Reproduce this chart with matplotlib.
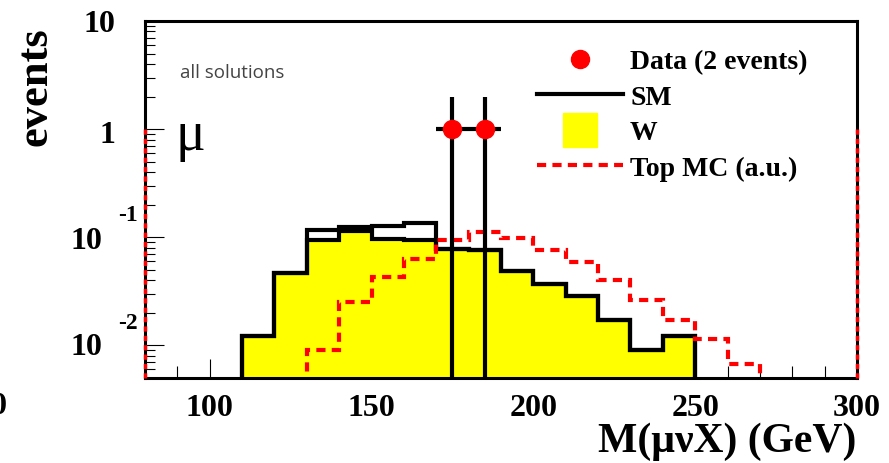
import numpy as np
import matplotlib.pyplot as plt
from matplotlib.lines import Line2D
from matplotlib.ticker import MultipleLocator, FixedLocator, LogLocator, NullFormatter
from matplotlib.transforms import offset_copy

plt.rcParams['font.family'] = ['Liberation Serif', 'DejaVu Serif']
plt.rcParams['font.weight'] = 'bold'

# histogram binning (GeV), 10 GeV bins
w_edges = np.arange(110, 251, 10)
w_vals = [0.0122, 0.047, 0.095, 0.115, 0.097, 0.095, 0.078, 0.076,
          0.0487, 0.0368, 0.0287, 0.0171, 0.0090, 0.0122]
sm_vals = [0.0122, 0.047, 0.117, 0.124, 0.127, 0.136, 0.078, 0.076,
           0.0487, 0.0368, 0.0287, 0.0171, 0.0090, 0.0122]

top_edges = np.arange(130, 271, 10)
top_vals = [0.0091, 0.0250, 0.0428, 0.0626, 0.094, 0.113, 0.0995, 0.077,
            0.0594, 0.0404, 0.0261, 0.0172, 0.0114, 0.0068]

data_x = np.array([175, 185])
data_y = np.array([1.0, 1.0])

ytick_vals = [10, 1, 0.1, 0.01]
xtick_vals = [100, 150, 200, 250, 300]

red = '#ff0000'
yellow = '#ffff00'
dash = (0, (2.2, 1.5))
ymin, ymax = 0.005, 10

fig = plt.figure(figsize=(8.89, 4.64), dpi=100)
ax = fig.add_axes([145/889, 1-379/464, 712/889, 357/464])
ax.set_yscale('log')
ax.set_xlim(80, 300)
ax.set_ylim(ymin, ymax)

# W (filled) and SM total
ax.stairs(w_vals, w_edges, fill=True, color=yellow, baseline=1e-4, zorder=2)
ax.stairs(w_vals, w_edges, color='black', lw=3, baseline=1e-4, zorder=3)
ax.stairs(sm_vals, w_edges, color='black', lw=3, baseline=1e-4, zorder=3)

# top MC shape
ax.stairs(top_vals, top_edges, color=red, lw=3, linestyle=dash, baseline=1e-4, zorder=4)
ax.vlines([80, 300], ymin, 1.0, colors=red, lw=2.5, linestyles=(0, (1.5, 1.2)), zorder=6, clip_on=False)

# data with poisson errors
err = np.sqrt(data_y)
lo = np.minimum(err, data_y - 1e-3)
ax.errorbar(data_x, data_y, xerr=5, yerr=[lo, err], fmt='o', color=red, ms=13,
            ecolor='black', elinewidth=3, capsize=0, zorder=7)

for s in ax.spines.values():
    s.set_linewidth(2.2)
    s.set_zorder(5)

ax.xaxis.set_major_locator(FixedLocator(xtick_vals))
ax.xaxis.set_minor_locator(MultipleLocator(10))
ax.yaxis.set_major_locator(FixedLocator(ytick_vals))
ax.yaxis.set_minor_locator(LogLocator(base=10, subs=np.arange(2, 10)))
ax.yaxis.set_major_formatter(NullFormatter())
ax.yaxis.set_minor_formatter(NullFormatter())
ax.tick_params(which='both', direction='in', top=False, right=False, width=0.8)
ax.tick_params(which='major', length=14)
ax.tick_params(axis='x', which='minor', length=8.5)
ax.tick_params(axis='y', which='minor', length=7)
ax.tick_params(axis='x', labelsize=23, pad=11)
for lab in ax.get_xticklabels():
    lab.set_fontweight('bold')

# ROOT style log labels: mantissa plus raised exponent
ytr = ax.get_yaxis_transform()
def ylab(txt, y, dx, dy, ha, size):
    tr = offset_copy(ytr, fig=fig, x=dx*0.72, y=dy*0.72, units='points')
    ax.text(0, y, txt, transform=tr, ha=ha, va='center', fontsize=size, fontweight='bold')

ylab('10', 10, -30, -3, 'right', 23)
ylab('1', 1, -30, -5, 'right', 23)
ylab('10', 0.1, -43, -3, 'right', 23)
ylab('-1', 0.1, -27, 23, 'left', 17)
ylab('10', 0.01, -43, -1, 'right', 23)
ylab('-2', 0.01, -27, 23, 'left', 17)

fig.text(35/889, 1-87/464, 'events', rotation=90, ha='center', va='center', fontsize=32, fontweight='bold')
fig.text(856/889, 1-442/464, 'M(\u03bc\u03bdX) (GeV)', ha='right', va='center', fontsize=30, fontweight='bold')
fig.text(-9/889, 1-407/464, '0', ha='left', va='center', fontsize=23, fontweight='bold')

fig.text(180/889, 1-73/464, 'all solutions', ha='left', va='center', fontsize=13.5,
         color='#444444', family='Open Sans', fontweight='normal')
fig.text(175/889, 1-150/464, '\u03bc', ha='left', va='baseline', fontsize=40, fontweight='normal')

handles = [
    Line2D([], [], ls='none', marker='o', color=red, ms=13),
    Line2D([], [], color='black', lw=3),
    Line2D([], [], ls='none', marker='s', color=yellow, ms=25),
    Line2D([], [], color=red, lw=3, ls=dash),
]
labels = ['Data (2 events)', 'SM', 'W', 'Top MC (a.u.)']
ax.legend(handles, labels, loc='upper left', bbox_to_anchor=(537/889, 1-50/464),
          bbox_transform=fig.transFigure, frameon=False, borderpad=0, borderaxespad=0,
          handlelength=3.1, handletextpad=0.25, labelspacing=0.36,
          prop={'family': 'Liberation Serif', 'weight': 'bold', 'size': 20})

fig.savefig('out.png', dpi=100)
